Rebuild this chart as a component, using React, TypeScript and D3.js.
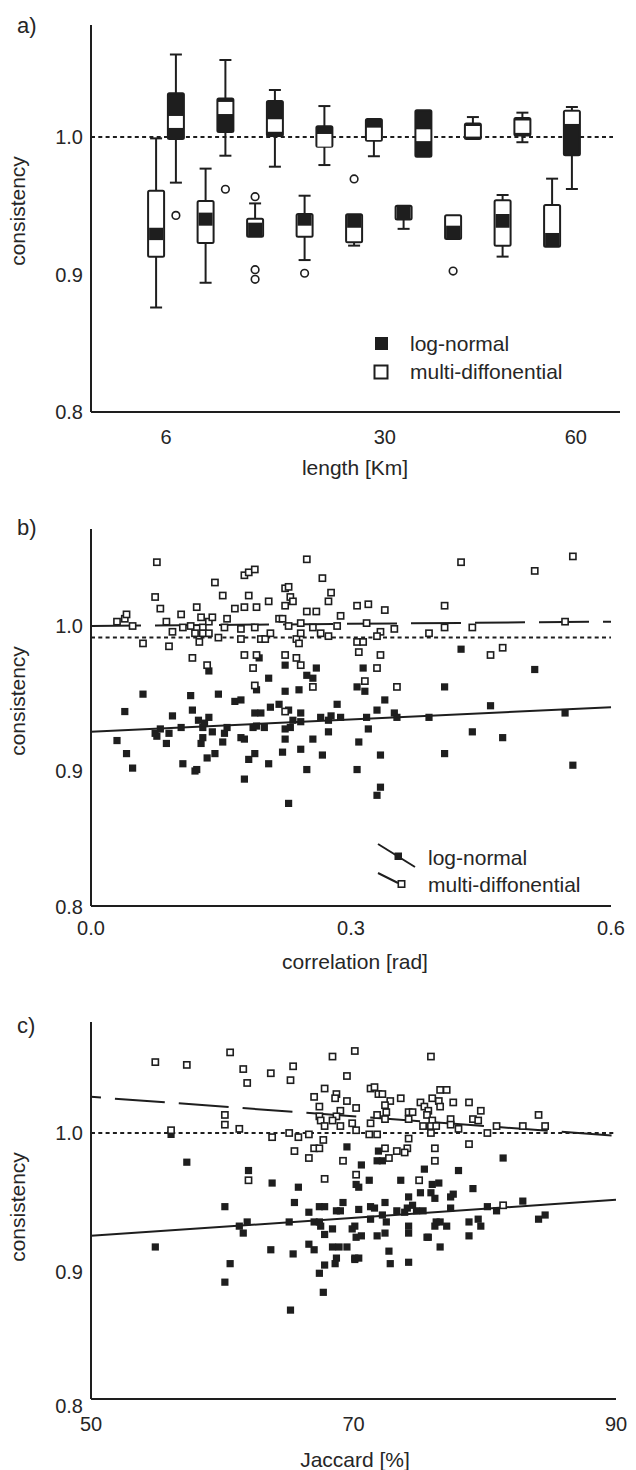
import React from 'react';
import * as d3 from 'd3';

// ---------- Panel a: box plots ----------
const groupIds = [0, 1, 2, 3, 4, 5, 6, 7, 8];
const aTickLabels = ['6', '30', '60'];
const aTickAt = [0, 4.42, 8.28];

// lower boxes (log-normal): white box with dark median band
const logNormalBoxes = [
  { wLo: 0.876, q1: 0.913, bLo: 0.925, bHi: 0.934, q3: 0.961, wHi: 0.999 },
  { wLo: 0.894, q1: 0.923, bLo: 0.9355, bHi: 0.945, q3: 0.9535, wHi: 0.977 },
  { wLo: 0.9275, q1: 0.9275, bLo: 0.9275, bHi: 0.9377, q3: 0.9406, wHi: 0.9517 },
  { wLo: 0.9105, q1: 0.9275, bLo: 0.9355, bHi: 0.944, q3: 0.944, wHi: 0.9573 },
  { wLo: 0.921, q1: 0.9234, bLo: 0.934, bHi: 0.9438, q3: 0.9438, wHi: 0.9438 },
  { wLo: 0.9332, q1: 0.94, bLo: 0.94, bHi: 0.95, q3: 0.95, wHi: 0.95 },
  { wLo: 0.9258, q1: 0.9258, bLo: 0.9258, bHi: 0.9355, q3: 0.9431, wHi: 0.9431 },
  { wLo: 0.913, q1: 0.921, bLo: 0.934, bHi: 0.944, q3: 0.954, wHi: 0.9578 },
  { wLo: 0.9202, q1: 0.9202, bLo: 0.9202, bHi: 0.9302, q3: 0.9505, wHi: 0.9697 },
];
// upper boxes (multi-diffonential): dark box with white median band
const multiBoxes = [
  { wLo: 0.9668, q1: 0.9985, bLo: 1.0066, bHi: 1.0153, q3: 1.0318, wHi: 1.06 },
  { wLo: 0.9864, q1: 1.0036, bLo: 1.0167, bHi: 1.0255, q3: 1.028, wHi: 1.056 },
  { wLo: 0.9784, q1: 1.0007, bLo: 1.0038, bHi: 1.0129, q3: 1.0262, wHi: 1.0342 },
  { wLo: 0.9796, q1: 0.993, bLo: 0.993, bHi: 1.0022, q3: 1.0078, wHi: 1.0225 },
  { wLo: 0.986, q1: 0.9973, bLo: 0.9978, bHi: 1.0068, q3: 1.0131, wHi: 1.0131 },
  { wLo: 0.9857, q1: 0.9857, bLo: 0.997, bHi: 1.0056, q3: 1.0194, wHi: 1.0194 },
  { wLo: 0.9985, q1: 0.9985, bLo: 1.0003, bHi: 1.008, q3: 1.0099, wHi: 1.0145 },
  { wLo: 0.9962, q1: 1.0011, bLo: 1.003, bHi: 1.012, q3: 1.0138, wHi: 1.0177 },
  { wLo: 0.9622, q1: 0.9867, bLo: 1.0095, bHi: 1.0184, q3: 1.0191, wHi: 1.0218 },
];
// outliers: [group, side (-1 lower column, +1 upper column), value]
const aOutliers: [number, number, number][] = [
  [0, 1, 0.943], [1, 1, 0.962], [2, -1, 0.9566], [2, -1, 0.9035], [2, -1, 0.8965],
  [3, -1, 0.9009], [4, -1, 0.9695], [6, -1, 0.9025],
];

// ---------- Panel b: correlation scatter ----------
const bLogNormal: [number, number][] = [
  [0.030,0.921],[0.039,0.941],[0.041,0.912],[0.048,0.902],[0.060,0.953],[0.076,0.924],[0.074,0.926],[0.080,0.929],[0.087,0.919],[0.090,0.926],
  [0.094,0.938],[0.104,0.930],[0.106,0.905],[0.115,0.952],[0.117,0.942],[0.120,0.900],[0.122,0.901],[0.124,0.935],[0.127,0.919],[0.129,0.923],
  [0.129,0.930],[0.131,0.933],[0.134,0.909],[0.136,0.937],[0.136,0.969],[0.140,0.927],[0.143,0.912],[0.147,0.953],[0.152,0.920],[0.154,0.926],
  [0.157,0.930],[0.166,0.948],[0.173,0.949],[0.173,0.923],[0.177,0.922],[0.177,0.894],[0.182,0.908],[0.187,0.930],[0.189,0.940],[0.189,0.912],
  [0.191,0.956],[0.196,0.940],[0.191,0.931],[0.194,0.978],[0.200,0.930],[0.205,0.964],[0.205,0.905],[0.207,0.944],[0.217,0.946],[0.221,0.913],
  [0.224,0.973],[0.224,0.955],[0.224,0.929],[0.224,0.922],[0.228,0.942],[0.228,0.876],[0.230,0.930],[0.233,0.935],[0.240,0.956],[0.242,0.940],
  [0.242,0.915],[0.242,0.934],[0.249,0.966],[0.249,0.901],[0.256,0.964],[0.256,0.922],[0.260,0.971],[0.265,0.937],[0.267,0.911],[0.274,0.935],
  [0.274,0.927],[0.277,0.938],[0.284,0.946],[0.288,0.937],[0.307,0.958],[0.309,0.920],[0.307,0.901],[0.314,0.971],[0.316,0.955],[0.339,0.949],
  [0.330,0.942],[0.350,0.940],[0.353,0.937],[0.318,0.937],[0.320,0.929],[0.334,0.911],[0.334,0.888],[0.330,0.882],[0.390,0.937],[0.408,0.958],
  [0.408,0.912],[0.427,0.984],[0.440,0.927],[0.461,0.945],[0.475,0.923],[0.512,0.970],[0.547,0.940],[0.556,0.904],
];
const bMulti: [number, number][] = [
  [0.076,1.044],[0.030,1.003],[0.039,1.005],[0.041,1.008],[0.048,1.000],[0.060,0.988],[0.074,1.020],[0.080,1.012],[0.087,1.003],[0.090,0.986],
  [0.094,0.996],[0.104,1.008],[0.106,0.999],[0.115,1.000],[0.117,0.978],[0.122,1.013],[0.120,0.995],[0.127,1.006],[0.129,0.999],[0.125,0.989],
  [0.129,0.995],[0.134,0.973],[0.136,1.003],[0.136,0.995],[0.140,1.006],[0.143,1.030],[0.147,0.992],[0.152,1.021],[0.154,0.999],[0.157,1.005],
  [0.166,1.012],[0.173,0.998],[0.173,0.991],[0.177,1.013],[0.177,1.035],[0.182,1.037],[0.189,1.039],[0.182,1.021],[0.177,0.980],[0.187,0.971],
  [0.189,0.999],[0.191,1.013],[0.191,0.980],[0.189,0.959],[0.196,0.991],[0.201,0.991],[0.205,1.017],[0.207,0.995],[0.217,1.005],[0.221,1.005],
  [0.224,1.026],[0.228,1.027],[0.224,1.014],[0.230,1.020],[0.233,1.017],[0.228,1.000],[0.224,0.980],[0.224,0.941],[0.237,0.991],[0.240,0.988],
  [0.242,1.002],[0.242,0.995],[0.237,0.978],[0.242,0.973],[0.249,1.010],[0.249,1.046],[0.256,0.999],[0.256,0.958],[0.260,1.010],[0.265,0.995],
  [0.267,1.033],[0.274,1.017],[0.277,1.023],[0.274,0.993],[0.284,1.000],[0.288,1.007],[0.307,1.014],[0.307,0.989],[0.309,0.982],[0.320,1.015],
  [0.339,1.011],[0.318,1.002],[0.334,0.996],[0.330,0.993],[0.350,0.998],[0.314,0.989],[0.334,0.980],[0.330,0.971],[0.316,0.962],[0.353,0.958],
  [0.390,0.995],[0.408,1.014],[0.408,0.999],[0.427,1.044],[0.440,0.999],[0.461,0.980],[0.475,0.985],[0.512,1.038],[0.547,1.003],[0.556,1.048],
];
const bFitLogNormal: [number, number][] = [[0, 0.927], [0.6, 0.944]];
const bFitMulti: [number, number][] = [[0, 1.0], [0.6, 1.003]];
const bReference = 0.992;
const bTicksX = [0, 0.3, 0.6];

// ---------- Panel c: Jaccard scatter ----------
const cLogNormal: [number, number][] = [
  [56.1,0.999],[57.3,0.979],[62.0,0.973],[63.8,0.964],[65.8,0.961],[60.2,0.947],[65.5,0.950],[66.6,0.943],[67.4,0.947],[67.8,0.947],
  [69.2,0.950],[68.7,0.944],[69.0,0.944],[69.5,0.990],[61.3,0.933],[61.9,0.936],[61.6,0.928],[65.1,0.936],[67.0,0.936],[67.4,0.936],
  [67.5,0.933],[67.8,0.927],[68.4,0.931],[69.9,0.931],[70.2,0.925],[54.9,0.918],[60.6,0.906],[60.2,0.892],[63.7,0.916],[65.4,0.913],
  [66.6,0.920],[67.0,0.916],[68.4,0.918],[68.9,0.918],[69.5,0.918],[68.7,0.910],[68.6,0.906],[67.8,0.905],[67.4,0.899],[70.1,0.910],
  [67.7,0.884],[65.2,0.870],[70.2,0.963],[70.4,0.945],
  [71.9,0.987],[71.8,0.980],[72.2,0.980],[70.6,0.977],[75.4,0.974],[78.0,0.973],[81.4,0.982],[70.4,0.961],[71.2,0.966],[73.6,0.966],
  [76.0,0.963],[76.5,0.964],[79.1,0.960],[75.1,0.957],[75.9,0.957],[74.2,0.954],[76.2,0.953],[77.4,0.954],[77.6,0.956],[72.4,0.950],
  [74.5,0.948],[71.3,0.947],[71.6,0.946],[72.2,0.941],[73.3,0.944],[74.1,0.946],[73.9,0.943],[74.8,0.944],[75.3,0.944],[77.4,0.946],
  [80.2,0.947],[80.9,0.944],[82.9,0.951],[84.1,0.938],[84.6,0.941],[71.3,0.938],[72.5,0.936],[74.2,0.933],[74.2,0.928],[76.2,0.933],
  [76.3,0.936],[76.6,0.936],[77.1,0.933],[78.8,0.936],[79.5,0.938],[79.7,0.933],[70.1,0.933],[70.6,0.926],[71.8,0.926],[72.4,0.928],
  [75.6,0.925],[75.7,0.925],[78.8,0.926],[76.6,0.918],[72.7,0.915],[70.1,0.909],[70.4,0.910],[72.8,0.906],[74.2,0.907],
];
const cMulti: [number, number][] = [
  [54.9,1.051],[57.3,1.049],[60.6,1.058],[61.6,1.046],[61.9,1.036],[63.7,1.043],[65.4,1.048],[65.2,1.038],[60.2,1.013],[60.2,1.006],
  [61.3,1.003],[56.1,1.002],[63.8,0.997],[65.1,1.000],[65.8,0.997],[66.6,0.999],[65.5,0.987],[67.0,0.989],[67.4,0.989],[67.7,0.995],
  [66.6,0.982],[69.2,0.980],[67.8,0.967],[62.0,0.966],[68.4,1.055],[70.1,1.059],[69.5,1.041],[67.8,1.032],[67.0,1.026],[67.4,1.019],
  [68.7,1.028],[68.6,1.025],[69.5,1.023],[69.0,1.016],[67.4,1.012],[67.5,1.009],[67.8,1.005],[68.7,1.012],[68.4,1.009],[69.0,1.005],
  [70.2,1.018],[69.9,1.007],[70.2,1.002],[70.2,0.970],
  [75.9,1.055],[71.3,1.032],[71.6,1.033],[71.9,1.028],[72.2,1.028],[72.8,1.023],[73.6,1.025],[72.4,1.020],[72.5,1.015],[71.8,1.013],
  [72.4,1.010],[71.3,1.007],[71.2,0.999],[71.8,0.999],[75.1,1.022],[75.4,1.019],[75.7,1.016],[76.0,1.025],[76.5,1.023],[76.6,1.031],
  [77.1,1.031],[76.6,1.019],[77.6,1.022],[78.8,1.022],[79.7,1.016],[74.2,1.015],[74.5,1.015],[75.6,1.013],[76.0,1.009],[74.2,1.010],
  [77.4,1.010],[79.1,1.010],[79.5,1.009],[75.3,1.005],[75.9,1.005],[76.3,1.005],[77.4,1.006],[78.0,1.003],[80.9,1.005],[82.9,1.005],
  [84.6,1.005],[84.1,1.013],[75.9,1.000],[80.2,1.000],[74.2,0.996],[78.8,0.992],[72.4,0.989],[73.3,0.987],[74.1,0.989],[73.9,0.986],
  [76.2,0.989],[72.7,0.982],[76.2,0.980],[75.0,0.966],[81.4,0.948],
];
const cFitLogNormal: [number, number][] = [[50, 0.926], [90, 0.952]];
const cFitMulti: [number, number][] = [[50, 1.026], [90, 0.998]];
const cReference = 1.0;
const cTicksX = [50, 70, 90];

const yTicks = [0.8, 0.9, 1.0];
const legendLabels = ['log-normal', 'multi-diffonential'];

const INK = '#1e1e1e';
const TXT = '#262626';
const FONT = '"Liberation Sans", Arial, Helvetica, sans-serif';

function YAxis({ y, top, bottom, x0, labelDy = [0, 0, 0] }: any) {
  return (
    <g>
      <line x1={x0} x2={x0} y1={top} y2={bottom} stroke={INK} strokeWidth={2} />
      {yTicks.map((t, i) => (
        <text key={t} x={x0 - 8} y={y(t) + labelDy[i]} textAnchor="end" dominantBaseline="central"
          fontSize={20} fill={TXT}>{t.toFixed(1)}</text>
      ))}
    </g>
  );
}

function Square({ x, y, filled }: { x: number; y: number; filled: boolean }) {
  return filled
    ? <rect x={x - 3.6} y={y - 3.6} width={7.2} height={7.2} fill={INK} />
    : <rect x={x - 3.1} y={y - 3.1} width={6.2} height={6.2} fill="#fff" stroke={INK} strokeWidth={1.6} />;
}

function PanelA() {
  const y = d3.scaleLinear().domain([0.8, 1.0]).range([412, 137]);
  const x = d3.scaleLinear().domain([0, 8]).range([166, 562]);
  const x0 = 91, x1 = 620, top = 25, bottom = 412;
  const off = 9.9, bw = 16, cap = 12;
  const drawBox = (b: any, cx: number, dark: boolean, key: string) => {
    const fill = dark ? INK : '#fff';
    const band = dark ? '#fff' : INK;
    return (
      <g key={key}>
        {b.wLo < b.q1 && <line x1={cx} x2={cx} y1={y(b.wLo)} y2={y(b.q1)} stroke={INK} strokeWidth={2} />}
        {b.wHi > b.q3 && <line x1={cx} x2={cx} y1={y(b.wHi)} y2={y(b.q3)} stroke={INK} strokeWidth={2} />}
        {b.wLo < b.q1 && <line x1={cx - cap / 2} x2={cx + cap / 2} y1={y(b.wLo)} y2={y(b.wLo)} stroke={INK} strokeWidth={2} />}
        {b.wHi > b.q3 && <line x1={cx - cap / 2} x2={cx + cap / 2} y1={y(b.wHi)} y2={y(b.wHi)} stroke={INK} strokeWidth={2} />}
        <rect x={cx - bw / 2} y={y(b.q3)} width={bw} height={y(b.q1) - y(b.q3)} fill={fill} stroke={INK} strokeWidth={2} rx={1.5} />
        <rect x={cx - bw / 2 + 1} y={y(b.bHi)} width={bw - 2} height={Math.max(0, y(b.bLo) - y(b.bHi))} fill={band} />
      </g>
    );
  };
  return (
    <g>
      <text x={17} y={33} fontSize={22} fill={TXT}>a)</text>
      <text transform={`translate(25,211) rotate(-90)`} textAnchor="middle" fontSize={21} fill={TXT}>consistency</text>
      <line x1={x0} x2={613} y1={y(1.0)} y2={y(1.0)} stroke={INK} strokeWidth={2} strokeDasharray="4,3.3" />
      {groupIds.map((g) => drawBox(logNormalBoxes[g], x(g) - off, false, 'l' + g))}
      {groupIds.map((g) => drawBox(multiBoxes[g], x(g) + off, true, 'm' + g))}
      {aOutliers.map(([g, s, v], i) => (
        <circle key={i} cx={x(g) + s * off} cy={y(v)} r={3.8} fill="#fff" stroke={INK} strokeWidth={1.6} />
      ))}
      <YAxis y={y} top={top} bottom={bottom} x0={x0} />
      <line x1={x0} x2={x1} y1={bottom} y2={bottom} stroke={INK} strokeWidth={2} />
      {aTickLabels.map((t, i) => (
        <text key={t} x={x(aTickAt[i])} y={437} textAnchor="middle" dominantBaseline="central" fontSize={20} fill={TXT}>{t}</text>
      ))}
      <text x={355} y={475} textAnchor="middle" fontSize={21} fill={TXT}>length [Km]</text>
      <rect x={375} y={337} width={13} height={13} fill={INK} />
      <rect x={374.5} y={365.5} width={13} height={13} fill="#fff" stroke={INK} strokeWidth={2} />
      <text x={410} y={343} dominantBaseline="central" fontSize={21} fill={TXT}>{legendLabels[0]}</text>
      <text x={410} y={371} dominantBaseline="central" fontSize={21} fill={TXT}>{legendLabels[1]}</text>
    </g>
  );
}

function ScatterPanel({ label, labelY, y, x, top, bottom, x1, logData, multiData, fitLog, fitMulti, refV,
  ticksX, tickFmt, xTitle, xTitleY, xTickY, titleY, yLabelDy, legend, dashOffset }: any) {
  const x0 = 91;
  const line = d3.line<[number, number]>().x((d) => x(d[0])).y((d) => y(d[1]));
  return (
    <g>
      <text x={17} y={labelY} fontSize={22} fill={TXT}>{label}</text>
      <text transform={`translate(25,${titleY}) rotate(-90)`} textAnchor="middle" fontSize={21} fill={TXT}>consistency</text>
      <line x1={x0} x2={x1} y1={y(refV)} y2={y(refV)} stroke={INK} strokeWidth={2} strokeDasharray="4,3.3" />
      <path d={line(fitMulti) || ''} fill="none" stroke={INK} strokeWidth={2} strokeDasharray="50,14" strokeDashoffset={dashOffset} />
      <path d={line(fitLog) || ''} fill="none" stroke={INK} strokeWidth={2} />
      {logData.map((d: [number, number], i: number) => <Square key={'l' + i} x={x(d[0])} y={y(d[1])} filled />)}
      {multiData.map((d: [number, number], i: number) => <Square key={'m' + i} x={x(d[0])} y={y(d[1])} filled={false} />)}
      <YAxis y={y} top={top} bottom={bottom} x0={x0} labelDy={yLabelDy} />
      <line x1={x0} x2={x1} y1={bottom} y2={bottom} stroke={INK} strokeWidth={2} />
      {ticksX.map((t: number) => (
        <text key={t} x={x(t)} y={xTickY} textAnchor="middle" dominantBaseline="central" fontSize={20} fill={TXT}>{tickFmt(t)}</text>
      ))}
      <text x={355} y={xTitleY} textAnchor="middle" fontSize={21} fill={TXT}>{xTitle}</text>
      {legend}
    </g>
  );
}

export default function App() {
  const yB = d3.scaleLinear().domain([0.8, 0.9, 1.0]).range([906, 771, 626]);
  const xB = d3.scaleLinear().domain([0, 0.6]).range([91, 611]);
  const yC = d3.scaleLinear().domain([0.8, 0.9, 1.0]).range([1399, 1272, 1133]);
  const xC = d3.scaleLinear().domain([50, 90]).range([91, 616]);
  const legendB = (
    <g>
      <line x1={378} y1={844} x2={415} y2={867} stroke={INK} strokeWidth={2} />
      <rect x={394.5} y={852.5} width={7.5} height={7.5} fill={INK} />
      <line x1={378} y1={873} x2={398} y2={883} stroke={INK} strokeWidth={2} />
      <rect x={398.3} y={880.8} width={6.4} height={6.4} fill="#fff" stroke={INK} strokeWidth={1.6} />
      <text x={428} y={857} dominantBaseline="central" fontSize={21} fill={TXT}>{legendLabels[0]}</text>
      <text x={428} y={884} dominantBaseline="central" fontSize={21} fill={TXT}>{legendLabels[1]}</text>
    </g>
  );
  return (
    <svg width={636} height={1470} viewBox="0 0 636 1470"
      style={{ position: 'absolute', left: 0, top: 0, background: '#fff', fontFamily: FONT }}>
      <rect width={636} height={1470} fill="#fff" />
      <PanelA />
      <ScatterPanel label="b)" labelY={535} y={yB} x={xB} top={529} bottom={906} x1={611}
        logData={bLogNormal} multiData={bMulti} fitLog={bFitLogNormal} fitMulti={bFitMulti} refV={bReference}
        ticksX={bTicksX} tickFmt={(t: number) => t.toFixed(1)} xTitle="correlation [rad]" xTitleY={969} xTickY={928}
        titleY={701} yLabelDy={[1, 0, 0]} legend={legendB} dashOffset={0} />
      <ScatterPanel label="c)" labelY={1033} y={yC} x={xC} top={1022} bottom={1399} x1={616}
        logData={cLogNormal} multiData={cMulti} fitLog={cFitLogNormal} fitMulti={cFitMulti} refV={cReference}
        ticksX={cTicksX} tickFmt={(t: number) => String(t)} xTitle="Jaccard [%]" xTitleY={1467} xTickY={1424}
        titleY={1207} yLabelDy={[7, 0, 0]} legend={null} dashOffset={40} />
    </svg>
  );
}
